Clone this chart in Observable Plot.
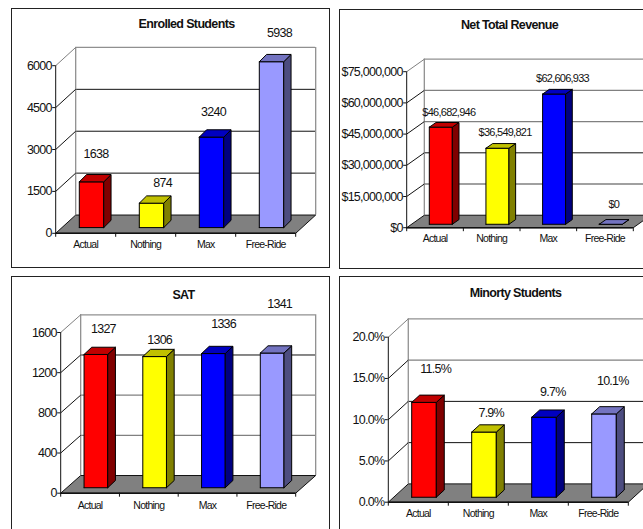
<!DOCTYPE html>
<html>
<head>
<meta charset="utf-8">
<script src="https://cdn.jsdelivr.net/npm/d3@7"></script>
<script src="https://cdn.jsdelivr.net/npm/@observablehq/plot@0.6"></script>
<style>
  html, body { margin: 0; padding: 0; background: #fff; }
  body { position: relative; width: 643px; height: 529px; overflow: hidden; font-family: "Liberation Sans", Arial, sans-serif; }
  .panel { position: absolute; box-sizing: border-box; border: 1.5px solid #222; background: #fff; }
  .panel svg { position: absolute; left: -1.5px; top: -1.5px; max-width: none; background: transparent; }
  .panel .heading { position: absolute; transform: translate(-50%, -50%); font-weight: bold; font-size: 12.5px; letter-spacing: -0.65px; white-space: nowrap; color: #111; z-index: 1; }
</style>
</head>
<body>
<script>
// Scenario names shared by the four charts
const categories = ["Actual", "Nothing", "Max", "Free-Ride"];

// Values per scenario
const enrolledStudents = [1638, 874, 3240, 5938];
const netTotalRevenue = [46682946, 36549821, 62606933, 0];
const satScores = [1327, 1306, 1336, 1341];
const minorityStudents = [0.115, 0.079, 0.097, 0.101];

// Value-axis ticks
const enrolledTicks = [0, 1500, 3000, 4500, 6000];
const revenueTicks = [0, 15000000, 30000000, 45000000, 60000000, 75000000];
const satTicks = [0, 400, 800, 1200, 1600];
const minorityTicks = [0, 0.05, 0.1, 0.15, 0.2];

// Bar colours: front, side and top faces
const barFaces = [
  ["#ff0000", "#800000", "#c00000"],
  ["#ffff00", "#808000", "#c0c000"],
  ["#0000ff", "#000080", "#0000c0"],
  ["#9999ff", "#4d4d80", "#7373c0"]
];

const charts = [
  {
    heading: "Enrolled Students", values: enrolledStudents, ticks: enrolledTicks,
    format: d3.format("d"), valueSize: 12.5,
    box: {x: 10.5, y: 7.5, w: 319, h: 260}, plot: {left: 55.7, right: 295.7, base: 233.3, top: 65.7},
    headingAt: [187, 24], wall: [0.333, 0.109], bar: {w: 0.407, dx: 0.122, dy: 0.0436, sx: 0.097, sy: 0.034},
    darkGrid: [true, true, true], labelNudge: [[4.5, -27.4], [11, -20.4], [2, -24.7], [8, -29]], categoryGap: 7
  },
  {
    heading: "Net Total Revenue", values: netTotalRevenue, ticks: revenueTicks,
    format: d3.format("$,"), valueSize: 11,
    box: {x: 338.5, y: 8.5, w: 320, h: 260}, plot: {left: 406.7, right: 633.3, base: 227.7, top: 71.7},
    headingAt: [510, 25], wall: [0.311, 0.08], bar: {w: 0.406, dx: 0.118, dy: 0.03, sx: 0.102, sy: 0.022},
    darkGrid: [false, true, false, false], labelNudge: [[8, -15], [7.6, -15.3], [8.4, -15.7], [3, -19.3]], categoryGap: 7
  },
  {
    heading: "SAT", values: satScores, ticks: satTicks,
    format: d3.format("d"), valueSize: 12.5,
    box: {x: 10.5, y: 276, w: 319, h: 262}, plot: {left: 60.7, right: 295.7, base: 492.7, top: 332},
    headingAt: [184, 295], wall: [0.34, 0.11], bar: {w: 0.403, dx: 0.131, dy: 0.045, sx: 0.099, sy: 0.034},
    darkGrid: [false, false, true], labelNudge: [[7.5, -25], [5, -17], [10.2, -30], [7.5, -49]], categoryGap: 8.5
  },
  {
    heading: "Minorty Students", values: minorityStudents, ticks: minorityTicks,
    format: d3.format(".1%"), valueSize: 12.5,
    box: {x: 338.5, y: 276, w: 320, h: 262}, plot: {left: 388.3, right: 628.3, base: 501.7, top: 336.7},
    headingAt: [516, 293], wall: [0.333, 0.111], bar: {w: 0.41, dx: 0.133, dy: 0.044, sx: 0.095, sy: 0.03},
    darkGrid: [true, true, false], labelNudge: [[11.7, -33], [7.2, -19], [8.8, -25.3], [8.8, -33]], categoryGap: 7
  }
];

// Closed polygon rows for one faced shape, all in data units
function polygon(id, fill, corners) {
  return [...corners, corners[0]].map(([x, y]) => ({id, fill, x, y}));
}

function drawChart(c) {
  const n = categories.length;
  const max = d3.max(c.ticks);
  const wallX = c.wall[0];
  const wallY = c.wall[1] * max;
  const gridLines = c.ticks.slice(1, -1);

  // Each bar is a front, side and top face, standing on the floor
  const faces = c.values.flatMap((v, i) => {
    const left = i + 0.5 + c.bar.sx - c.bar.w / 2;
    const right = left + c.bar.w;
    const y0 = c.bar.sy * max;
    const y1 = y0 + v;
    const dx = c.bar.dx;
    const dy = c.bar.dy * max;
    const [front, side, top] = barFaces[i];
    return [
      ...polygon(`front${i}`, front, [[left, y0], [right, y0], [right, y1], [left, y1]]),
      ...polygon(`side${i}`, side, [[right, y0], [right + dx, y0 + dy], [right + dx, y1 + dy], [right, y1]]),
      ...polygon(`top${i}`, top, [[left, y1], [right, y1], [right + dx, y1 + dy], [left + dx, y1 + dy]])
    ];
  });

  const floor = polygon("floor", "#808080", [[0, 0], [n, 0], [n + wallX, wallY], [wallX, wallY]]);

  const valueLabels = c.values.map((v, i) => Plot.text([v], {
    x: () => i + 0.5 + c.bar.sx,
    y: () => v + c.bar.sy * max,
    text: c.format,
    dx: c.labelNudge[i][0],
    dy: c.labelNudge[i][1],
    fontSize: c.valueSize,
    fill: "#111"
  }));

  const {box, plot} = c;
  const svg = Plot.plot({
    width: box.w,
    height: box.h,
    marginLeft: plot.left - box.x,
    marginRight: box.x + box.w - plot.right,
    marginTop: plot.top - box.y,
    marginBottom: box.y + box.h - plot.base,
    style: {fontFamily: '"Liberation Sans", Arial, sans-serif', letterSpacing: "-0.75px", color: "#111"},
    x: {type: "linear", domain: [0, n], axis: null},
    y: {type: "linear", domain: [0, max], axis: null},
    marks: [
      // Back wall gridlines and the wall's gray outline
      Plot.ruleY(gridLines, {
        y: (d) => d + wallY, x1: wallX, x2: n + wallX,
        stroke: (d, i) => (c.darkGrid[i] ? "#111" : "#808080"),
        strokeWidth: (d, i) => (c.darkGrid[i] ? 1 : 1.3)
      }),
      Plot.ruleY([max + wallY], {x1: wallX, x2: n + wallX, stroke: "#909090", strokeWidth: 1.3}),
      Plot.ruleX([wallX, n + wallX], {y1: wallY, y2: max + wallY, stroke: "#909090", strokeWidth: 1.3}),

      // Side wall: a diagonal from every tick back to the rear wall
      Plot.link(c.ticks.slice(1, -1), {
        x1: () => 0, y1: (d) => d, x2: () => wallX, y2: (d) => d + wallY, stroke: "#111"
      }),
      Plot.link([max], {x1: () => 0, y1: (d) => d, x2: () => wallX, y2: (d) => d + wallY, stroke: "#808080"}),

      // Floor
      Plot.line(floor, {x: "x", y: "y", z: "id", fill: "fill", stroke: "#111", strokeWidth: 1}),

      // Axes
      Plot.ruleX([0], {y1: 0, y2: max, stroke: "#111"}),
      Plot.ruleY([0], {x1: 0, x2: n, stroke: "#111", strokeWidth: 1.6}),
      Plot.axisY({ticks: c.ticks, tickFormat: c.format, tickSize: 3, tickPadding: 1, fontSize: 12.5, stroke: "#111", label: null, anchor: "left", fill: "#111"}),
      Plot.axisX({ticks: d3.range(n + 1), tickFormat: () => "", tickSize: 4, stroke: "#111", label: null}),
      Plot.axisX({
        ticks: categories.map((_, i) => i + 0.5), tickFormat: (d) => categories[Math.floor(d)],
        tickSize: 0, tickPadding: c.categoryGap, fontSize: 10.5, label: null, fill: "#111", style: {letterSpacing: "-0.95px"}
      }),

      // Bars
      Plot.line(faces, {x: "x", y: "y", z: "id", fill: "fill", stroke: "#000", strokeWidth: 1}),

      ...valueLabels
    ]
  });

  const wrapper = document.createElement("div");
  wrapper.className = "panel";
  Object.assign(wrapper.style, {left: `${box.x}px`, top: `${box.y}px`, width: `${box.w}px`, height: `${box.h}px`});
  wrapper.appendChild(svg);

  const heading = document.createElement("div");
  heading.className = "heading";
  heading.textContent = c.heading;
  heading.style.left = `${c.headingAt[0] - box.x - 1.5}px`;
  heading.style.top = `${c.headingAt[1] - box.y - 1.5}px`;
  wrapper.appendChild(heading);

  document.body.appendChild(wrapper);
}

charts.forEach(drawChart);
</script>
</body>
</html>
